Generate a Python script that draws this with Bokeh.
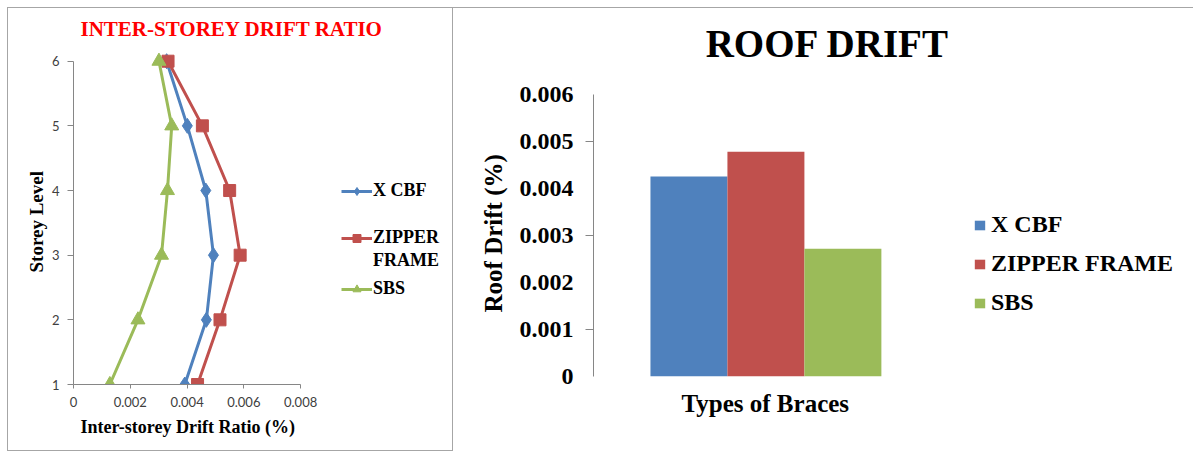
from bokeh.plotting import figure
from bokeh.layouts import row, column
from bokeh.models import (Legend, LegendItem, Range1d, FixedTicker, NumeralTickFormatter, Title, Label)
from bokeh.embed import file_html
from bokeh.resources import INLINE

# ---------------- data ----------------
storeys = [1, 2, 3, 4, 5, 6]
xcbf_drift = [0.00392, 0.00468, 0.00493, 0.00466, 0.00401, 0.00328]
zipper_drift = [0.00437, 0.00516, 0.00587, 0.00550, 0.00454, 0.00333]
sbs_drift = [0.00128, 0.00227, 0.00310, 0.00331, 0.00346, 0.00301]

brace_types = ["X CBF", "ZIPPER FRAME", "SBS"]
roof_drift = [0.00426, 0.00479, 0.00272]

x_ticks_left = [0, 0.002, 0.004, 0.006, 0.008]
y_ticks_left = [1, 2, 3, 4, 5, 6]
y_ticks_right = [0, 0.001, 0.002, 0.003, 0.004, 0.005, 0.006]
y_minor_right = [0.001, 0.003, 0.005]

BLUE = "#4F81BD"
RED = "#C0504D"
GREEN = "#9BBB59"
AXIS = "#868686"
SERIF = "Liberation Serif"

# ---------------- left chart ----------------
p1 = figure(width=446, height=444, x_range=Range1d(0, 0.01335), y_range=Range1d(1, 6.815),
            output_backend="svg", toolbar_location=None,
            min_border_left=65, min_border_right=2, min_border_top=0, min_border_bottom=68)
p1.styles = {"border": "1px solid #a6a6a6"}
p1.grid.visible = False
p1.outline_line_color = None

p1.add_layout(Label(text="INTER-STOREY  DRIFT RATIO", x=7, y=356, x_units="screen", y_units="screen",
                    text_align="left", text_baseline="alphabetic",
                    text_color="#FF0000", text_font=SERIF, text_font_style="bold",
                    text_font_size="21px"))
p1.add_layout(Title(text="Inter-storey Drift Ratio (%)", align="left", offset=7,
                    text_color="black", text_font=SERIF, text_font_style="bold",
                    text_font_size="18px", standoff=10), "below")
p1.add_layout(Title(text="Storey Level", align="left", offset=112,
                    text_color="black", text_font=SERIF, text_font_style="bold",
                    text_font_size="19px", standoff=4), "left")

l1 = p1.line(xcbf_drift, storeys, line_color=BLUE, line_width=3)
m1 = p1.scatter(xcbf_drift, storeys, marker="diamond", size=15, fill_color=BLUE, line_color=BLUE)
l2 = p1.line(zipper_drift, storeys, line_color=RED, line_width=3)
m2 = p1.scatter(zipper_drift, storeys, marker="square", size=12, fill_color=RED, line_color=RED)
l3 = p1.line(sbs_drift, storeys, line_color=GREEN, line_width=3)
m3 = p1.scatter(sbs_drift, storeys, marker="triangle", size=14, fill_color=GREEN, line_color=GREEN)

p1.xaxis.ticker = FixedTicker(ticks=x_ticks_left)
p1.yaxis.ticker = FixedTicker(ticks=y_ticks_left)
p1.xaxis.formatter = NumeralTickFormatter(format="0.[000]")
p1.xaxis.bounds = (x_ticks_left[0], x_ticks_left[-1])
p1.yaxis.bounds = (y_ticks_left[0], y_ticks_left[-1])
for ax in (p1.xaxis, p1.yaxis):
    ax.axis_line_color = AXIS
    ax.major_tick_line_color = AXIS
    ax.minor_tick_line_color = None
    ax.major_tick_in = 0
    ax.major_label_text_font = "Lato"
    ax.major_label_text_font_size = "13px"
    ax.major_label_text_color = "#404040"
p1.xaxis.major_tick_out = 4
p1.yaxis.major_tick_out = 6
p1.xaxis.major_label_standoff = 8
p1.yaxis.major_label_standoff = 8

legend_style = dict(padding=0, margin=0, glyph_width=31, glyph_height=20, label_standoff=1,
                    label_height=20, label_text_font=SERIF, label_text_font_style="bold",
                    label_text_font_size="18px", label_text_color="black",
                    border_line_color=None, background_fill_alpha=0)
leg_a = Legend(items=[LegendItem(label="X CBF", renderers=[l1, m1])],
               location=(268, 183), spacing=0, **legend_style)
leg_b = Legend(items=[LegendItem(label="ZIPPER", renderers=[l2, m2]),
                      LegendItem(label="FRAME", renderers=[])],
               location=(268, 113), spacing=2, **legend_style)
leg_c = Legend(items=[LegendItem(label="SBS", renderers=[l3, m3])],
               location=(268, 85), spacing=0, **legend_style)
for lg in (leg_a, leg_b, leg_c):
    p1.add_layout(lg, "center")

# ---------------- right chart ----------------
bar_pos = list(range(len(brace_types)))
p2 = figure(width=740, height=445, x_range=Range1d(-1.24, 6.49),
            y_range=Range1d(0, 0.00784), x_axis_location=None,
            output_backend="svg", toolbar_location=None,
            min_border_left=140, min_border_right=5, min_border_top=0, min_border_bottom=77)
p2.styles = {"border-top": "1px solid #a6a6a6"}
p2.grid.visible = False
p2.outline_line_color = None

p2.add_layout(Label(text="ROOF DRIFT", x=234, y=333, x_units="screen", y_units="screen",
                    text_align="center", text_baseline="alphabetic",
                    text_color="black", text_font=SERIF, text_font_style="bold",
                    text_font_size="39px"))
p2.add_layout(Title(text="Types of Braces", align="left", offset=88,
                    text_color="black", text_font=SERIF, text_font_style="bold",
                    text_font_size="25px", standoff=22), "below")
p2.add_layout(Title(text="Roof Drift (%)", align="left", offset=64,
                    text_color="black", text_font=SERIF, text_font_style="bold",
                    text_font_size="25px", standoff=20), "left")

bars = p2.vbar(x=bar_pos, top=roof_drift, width=1.0,
               fill_color=[BLUE, RED, GREEN], line_color=None)

p2.yaxis.ticker = FixedTicker(ticks=y_ticks_right, minor_ticks=y_minor_right)
p2.yaxis.formatter = NumeralTickFormatter(format="0.[000]")
p2.yaxis.bounds = (-0.00015, y_ticks_right[-1])
p2.yaxis.axis_line_color = AXIS
p2.yaxis.major_tick_line_color = None
p2.yaxis.major_tick_out = 8
p2.yaxis.minor_tick_line_color = AXIS
p2.yaxis.minor_tick_out = 8
p2.yaxis.minor_tick_in = 0
p2.yaxis.major_label_standoff = 12
p2.yaxis.major_label_text_font = SERIF
p2.yaxis.major_label_text_font_style = "bold"
p2.yaxis.major_label_text_font_size = "24px"
p2.yaxis.major_label_text_color = "black"

items2 = [LegendItem(label=brace_types[i], renderers=[bars], index=i) for i in range(3)]
leg2 = Legend(items=items2, location=(380, 60), padding=0, margin=0, spacing=12,
              glyph_width=13, glyph_height=12, label_standoff=5,
              label_text_font=SERIF, label_text_font_style="bold", label_text_font_size="24px",
              label_text_color="black",
              border_line_color=None, background_fill_alpha=0)
p2.add_layout(leg2, "center")

layout = row(column(p1), column(p2), spacing=0, margin=(7, 0, 0, 7))
open("out.html", "w").write(file_html(layout, INLINE))
